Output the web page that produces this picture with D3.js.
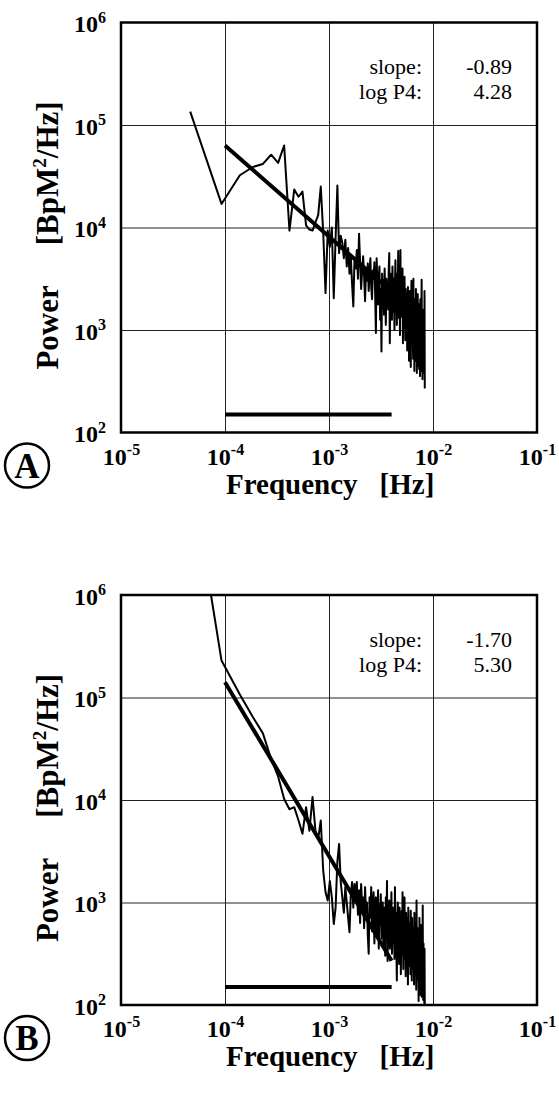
<!DOCTYPE html>
<html><head><meta charset="utf-8">
<script src="https://cdn.jsdelivr.net/npm/d3@7"></script>
<style>
body{margin:0;background:#fff}
svg{display:block}
text{font-family:"Liberation Serif","Times New Roman",serif;fill:#000}
</style>
</head><body>
<svg id="c" width="559" height="1095"></svg>
<script>
// ---- data ----
const binHz = 4.63e-5; // spectral resolution (frequency bin width)
const logPowerA = [
 5.13,4.23,4.51,4.59,4.62,4.71,4.63,4.80,3.97,4.37,
 4.30,4.35,4.02,3.98,3.97,4.05,4.12,4.40,3.95,3.36,
 3.97,3.81,4.00,3.31,3.90,4.41,3.75,3.92,3.85,3.70,
 3.88,3.62,3.80,3.55,3.72,3.45,3.23,3.70,3.60,3.78,
 3.50,3.94,3.66,3.40,3.58,3.72,3.52,3.28,3.60,3.48,
 3.65,3.38,3.55,3.70,3.42,3.30,3.58,3.50,3.66,3.35,
 2.97,3.70,3.45,3.25,3.52,3.62,3.10,3.40,2.79,3.55,
 3.30,3.48,3.15,3.60,3.38,3.05,3.50,3.28,3.44,3.20,
 3.58,3.75,2.87,3.40,3.25,3.55,3.10,3.62,3.35,3.18,
 3.50,3.00,3.42,3.68,3.22,3.40,3.05,3.55,3.30,3.77,
 3.12,3.45,3.35,2.95,3.78,3.20,3.48,3.13,3.38,3.60,
 2.87,3.30,3.45,3.05,3.52,3.15,2.90,3.40,3.25,3.08,
 3.35,2.80,3.20,3.42,2.98,3.30,2.70,3.15,3.38,2.92,
 3.22,2.64,3.10,3.48,2.85,3.25,2.95,3.05,2.72,3.50,
 2.88,3.18,2.60,3.30,2.95,3.12,2.70,3.40,2.82,3.05,
 2.58,3.20,2.90,3.35,2.65,3.00,2.78,3.25,2.62,3.10,
 2.85,2.55,3.30,2.75,3.02,2.60,3.15,3.49,2.70,2.90,
 2.52,3.20,2.80,2.64,3.05,2.58,2.95,2.70,3.38,2.43
];
const logPowerB = [
 7.26,5.36,5.03,4.81,4.65,4.40,4.23,4.01,3.91,3.93,
 3.80,3.67,3.93,3.70,4.03,3.70,3.62,3.80,3.31,3.10,
 3.02,3.21,3.05,2.79,2.95,3.40,3.57,3.20,3.05,2.90,
 3.15,3.00,2.85,2.71,3.08,3.20,2.95,3.18,3.02,3.20,
 2.88,3.12,2.80,3.18,2.95,3.05,2.75,3.15,2.90,3.00,
 2.68,2.50,3.05,2.85,3.15,2.72,2.95,3.10,2.60,2.92,
 3.05,2.70,2.85,3.12,2.55,2.98,2.78,3.08,2.65,2.90,
 3.00,2.58,2.85,2.95,2.48,3.05,2.75,3.21,2.43,2.90,
 2.70,3.02,2.55,2.88,2.65,3.10,2.50,2.80,2.95,2.60,
 2.85,2.45,3.15,2.70,2.90,2.55,2.24,2.80,3.00,2.62,
 2.75,2.40,2.95,2.58,2.85,2.30,2.70,2.92,2.50,3.10,
 2.65,2.35,2.80,2.55,3.05,2.45,2.75,2.28,2.90,2.60,
 2.40,2.85,2.55,2.20,2.95,2.62,2.38,2.80,2.50,2.70,
 2.30,2.92,2.45,2.65,2.24,2.85,2.55,2.35,2.75,2.48,
 2.60,2.20,2.90,2.40,2.70,2.30,2.55,2.80,2.15,3.02,
 2.45,2.62,2.25,2.75,2.38,2.50,2.04,2.68,2.30,2.85,
 2.40,2.10,2.60,2.35,2.78,2.20,2.52,2.08,2.70,2.32,
 2.15,2.97,2.28,2.05,2.60,2.12,2.45,2.02,2.55,2.00
];
const xTickValues = [1e-5, 1e-4, 1e-3, 1e-2, 1e-1];
const xTickExponents = ["-5", "-4", "-3", "-2", "-1"];
const yTickValues = [1e2, 1e3, 1e4, 1e5, 1e6];
const yTickExponents = ["2", "3", "4", "5", "6"];
const panelLetters = ["A", "B"];
const slopeValues = ["-0.89", "-1.70"];
const logP4Values = ["4.28", "5.30"];
const fitLineA = [[1e-4, 6.3e4], [4e-3, 2.38e3]];
const fitLineB = [[1e-4, 1.41e5], [4e-3, 2.7e2]];
const fitRangeBar = [1e-4, 4e-3];
const fitRangeBarLevel = 150;

// ---- drawing ----
const svg = d3.select("#c");
const x = d3.scaleLog().domain([1e-5, 1e-1]).range([121, 537]);

const panels = [
  {top: 22.5, bottom: 432.5, logs: logPowerA, fit: fitLineA, i: 0},
  {top: 595, bottom: 1005, logs: logPowerB, fit: fitLineB, i: 1}
];

panels.forEach(p => {
  const y = d3.scaleLog().domain([1e2, 1e6]).range([p.bottom, p.top]);
  const g = svg.append("g");
  const L = x.range()[0], R = x.range()[1];
  const clipId = "clip" + p.i;
  svg.append("clipPath").attr("id", clipId).append("rect")
    .attr("x", L).attr("y", p.top).attr("width", R - L).attr("height", p.bottom - p.top);

  // grid
  g.append("g").attr("transform", `translate(0,${p.bottom})`)
    .call(d3.axisBottom(x).tickValues(xTickValues.slice(1, -1)).tickSize(-(p.bottom - p.top)).tickFormat(""))
    .call(a => a.select(".domain").remove())
    .call(a => a.selectAll("line").attr("stroke", "#222").attr("stroke-width", 1));
  g.append("g").attr("transform", `translate(${L},0)`)
    .call(d3.axisLeft(y).tickValues(yTickValues.slice(1, -1)).tickSize(-(R - L)).tickFormat(""))
    .call(a => a.select(".domain").remove())
    .call(a => a.selectAll("line").attr("stroke", "#222").attr("stroke-width", 1));

  // spectrum
  const pts = p.logs.map((v, k) => [(k + 1) * binHz, Math.pow(10, v)]);
  const line = d3.line().x(d => x(d[0])).y(d => y(d[1]));
  g.append("path").datum(pts).attr("d", line).attr("clip-path", `url(#${clipId})`)
    .attr("fill", "none").attr("stroke", "#000").attr("stroke-width", 2).attr("stroke-linejoin", "round");

  // fit line
  g.append("path").datum(p.fit).attr("d", line)
    .attr("fill", "none").attr("stroke", "#000").attr("stroke-width", 4);

  // fit range bar
  g.append("path").datum(fitRangeBar.map(f => [f, fitRangeBarLevel])).attr("d", line)
    .attr("fill", "none").attr("stroke", "#000").attr("stroke-width", 4);

  // border
  g.append("rect").attr("x", L).attr("y", p.top).attr("width", R - L).attr("height", p.bottom - p.top)
    .attr("fill", "none").attr("stroke", "#000").attr("stroke-width", 2.5);

  // y tick labels
  const ya = g.append("g").attr("transform", `translate(${L},0)`)
    .call(d3.axisLeft(y).tickValues(yTickValues).tickSize(0).tickPadding(15).tickFormat(""));
  ya.select(".domain").remove();
  ya.selectAll(".tick text").each(function(d, i) {
    const t = d3.select(this).attr("font-size", 24).attr("font-weight", "bold").attr("dy", "0.38em");
    t.append("tspan").text("10");
    t.append("tspan").attr("font-size", 16).attr("dy", "-0.6em").text(yTickExponents[i]);
  });

  // x tick labels
  const xa = g.append("g").attr("transform", `translate(0,${p.bottom})`)
    .call(d3.axisBottom(x).tickValues(xTickValues).tickSize(0).tickPadding(15).tickFormat(""));
  xa.select(".domain").remove();
  xa.selectAll(".tick text").each(function(d, i) {
    const t = d3.select(this).attr("font-size", 24).attr("font-weight", "bold");
    t.append("tspan").text("10");
    t.append("tspan").attr("font-size", 16).attr("dy", "-0.6em").text(xTickExponents[i]);
  });

  // inset numbers
  const off = p.top - 22.5;
  const inset = (tx, ty, s) => g.append("text").attr("x", tx).attr("y", ty + off)
    .attr("text-anchor", "end").attr("font-size", 22).text(s);
  inset(422, 74, "slope:");
  inset(422, 99, "log P4:");
  inset(512, 74, slopeValues[p.i]);
  inset(512, 99, logP4Values[p.i]);

  // x title
  const xt = g.append("text").attr("x", 226).attr("y", p.bottom + 61)
    .attr("font-size", 29).attr("font-weight", "bold");
  xt.append("tspan").text("Frequency");
  xt.append("tspan").attr("dx", 22).text("[Hz]");

  // y title
  const cy = (p.top + p.bottom) / 2 + 8;
  const yt = g.append("text").attr("transform", `translate(58,${cy}) rotate(-90)`).attr("text-anchor", "middle")
    .attr("font-size", 31).attr("font-weight", "bold");
  yt.append("tspan").text("Power");
  yt.append("tspan").attr("dx", 40).text("[BpM");
  yt.append("tspan").attr("font-size", 19).attr("dy", -12).text("2");
  yt.append("tspan").attr("dy", 12).text("/Hz]");

  // panel letter
  const lc = {x: 27, y: p.bottom + 33};
  g.append("circle").attr("cx", lc.x).attr("cy", lc.y).attr("r", 22)
    .attr("fill", "none").attr("stroke", "#000").attr("stroke-width", 2.5);
  g.append("text").attr("x", lc.x).attr("y", lc.y + 12).attr("text-anchor", "middle")
    .attr("font-size", 35).attr("font-weight", "bold").text(panelLetters[p.i]);
});
</script>
</body></html>
